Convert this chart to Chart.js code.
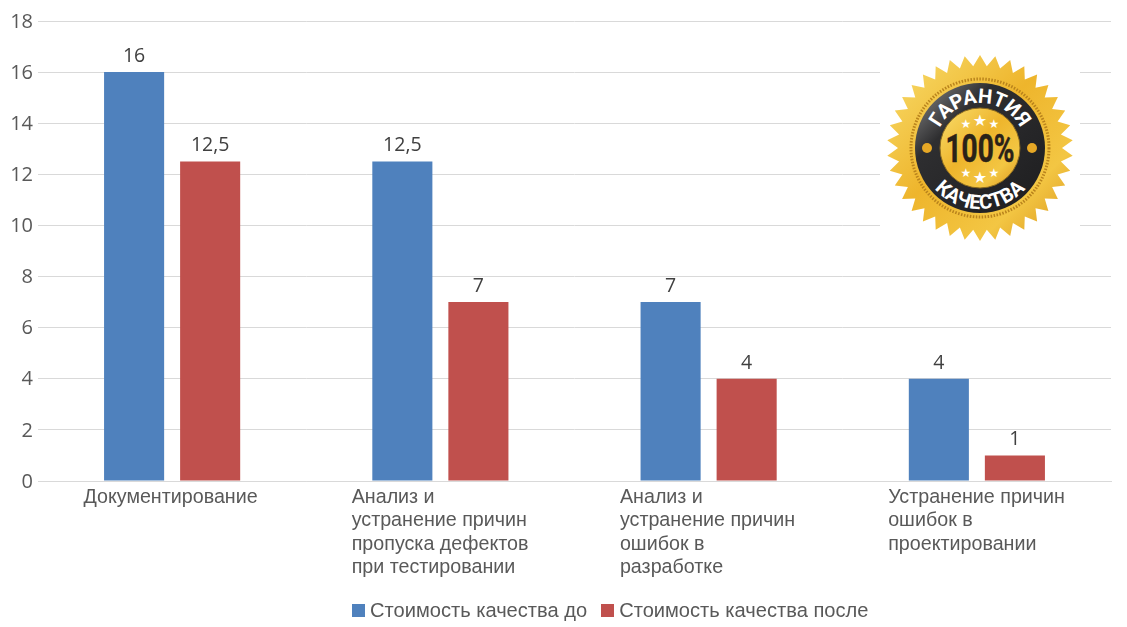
<!DOCTYPE html>
<html>
<head>
<meta charset="utf-8">
<script src="https://cdn.jsdelivr.net/npm/chart.js@4"></script>
<style>
  html, body { margin: 0; padding: 0; background: #fff; }
  #wrap { position: relative; width: 1127px; height: 627px; overflow: hidden; }
  #badge { position: absolute; left: 880px; top: 50px; }
  #legend { position: absolute; left: 352px; top: 600px; display: flex; font: 20.1px "Liberation Sans", Arial, sans-serif; color: #595959; line-height: 21px; white-space: nowrap; }
  #legend span.item { display: flex; align-items: center; margin-right: 14px; }
  #legend i { display: block; width: 13px; height: 13px; margin-right: 5px; }
</style>
</head>
<body>
<div id="wrap">
  <canvas id="myChart" width="1127" height="627"></canvas>
  <svg id="badge" width="200" height="196" viewBox="880 50 200 196">
    <defs>
      <linearGradient id="gold" x1="0" y1="0" x2="1" y2="1">
        <stop offset="0" stop-color="#f9de6e"/>
        <stop offset="0.45" stop-color="#eeb52c"/>
        <stop offset="0.75" stop-color="#f3c643"/>
        <stop offset="1" stop-color="#d8921a"/>
      </linearGradient>
      <linearGradient id="ring" x1="0" y1="0" x2="1" y2="1">
        <stop offset="0" stop-color="#8f8f8f"/>
        <stop offset="0.3" stop-color="#2e2e30"/>
        <stop offset="1" stop-color="#1d1d1f"/>
      </linearGradient>
      <path id="arcTop" d="M 935 148 A 45 45 0 0 1 1025 148"/>
      <path id="arcBottom" d="M 919 148 A 61 61 0 0 0 1041 148"/>
    </defs>
    <rect x="880" y="50" width="200" height="196" fill="#fff"/>
    <path id="burst" fill="url(#gold)"/>
    <circle cx="980" cy="148" r="69" fill="none" stroke="#b9831c" stroke-width="3" stroke-dasharray="1.5 1.5"/>
    <circle cx="980" cy="148" r="65" fill="url(#ring)"/>
    <circle cx="980" cy="148" r="40" fill="url(#gold)" stroke="#8a6a20" stroke-width="1"/>
    <circle cx="927" cy="148" r="5" fill="#e6a826"/>
    <circle cx="1032" cy="148" r="5" fill="#e6a826"/>
    <text font-family="Roboto, sans-serif" font-weight="700" font-size="20" fill="#fff" text-anchor="middle"><textPath href="#arcTop" startOffset="50%">ГАРАНТИЯ</textPath></text>
    <text font-family="Roboto, sans-serif" font-weight="700" font-size="20" fill="#fff" text-anchor="middle"><textPath href="#arcBottom" startOffset="50%">КАЧЕСТВА</textPath></text>
    <text x="980" y="162" font-family="Roboto, sans-serif" font-weight="700" font-size="38" fill="#2a2218" stroke="#2a2218" stroke-width="0.5" text-anchor="middle" textLength="69" lengthAdjust="spacingAndGlyphs">100%</text>
    <g fill="#fff" font-family="DejaVu Sans" text-anchor="middle">
      <text x="966" y="128" font-size="12">★</text>
      <text x="980" y="126" font-size="16">★</text>
      <text x="994" y="128" font-size="12">★</text>
      <text x="966" y="177" font-size="12">★</text>
      <text x="980" y="183" font-size="16">★</text>
      <text x="994" y="177" font-size="12">★</text>
    </g>
  </svg>
  <div id="legend"></div>
</div>
<script>
const categories = [
  ['Документирование'],
  ['Анализ и', 'устранение причин', 'пропуска дефектов', 'при тестировании'],
  ['Анализ и', 'устранение причин', 'ошибок в', 'разработке'],
  ['Устранение причин', 'ошибок в', 'проектировании'],
];
const seriesNames = ['Стоимость качества до', 'Стоимость качества после'];
const before = [16, 12.5, 7, 4];
const after = [12.5, 7, 4, 1];
const seriesColors = ['#4f81bd', '#c0504d'];

// star burst of the seal
let burst = '';
const teeth = 38;
for (let i = 0; i < teeth * 2; i++) {
  const r = i % 2 ? 82 : 93;
  const a = Math.PI * i / teeth - Math.PI / 2;
  burst += (i ? 'L' : 'M') + (980 + r * Math.cos(a)).toFixed(1) + ' ' + (148 + r * Math.sin(a)).toFixed(1);
}
document.querySelector('#burst').setAttribute('d', burst + 'Z');

// legend
seriesNames.forEach((name, i) => {
  const item = document.createElement('span');
  item.className = 'item';
  const box = document.createElement('i');
  box.style.background = seriesColors[i];
  item.appendChild(box);
  item.appendChild(document.createTextNode(name));
  document.querySelector('#legend').appendChild(item);
});

const valueLabels = {
  id: 'valueLabels',
  afterDatasetsDraw(chart) {
    const c = chart.ctx;
    c.save();
    c.font = '19.5px "Open Sans", sans-serif';
    c.fillStyle = '#404040';
    c.textAlign = 'center';
    c.textBaseline = 'bottom';
    chart.data.datasets.forEach((ds, i) => {
      chart.getDatasetMeta(i).data.forEach((bar, j) => {
        c.fillText(String(ds.data[j]).replace('.', ','), bar.x, bar.y - 6);
      });
    });
    c.restore();
  },
};

const ctx = document.querySelector('#myChart').getContext('2d');
const myChart = new Chart(ctx, {
  type: 'bar',
  data: {
    labels: categories,
    datasets: [
      { label: seriesNames[0], data: before, backgroundColor: seriesColors[0] },
      { label: seriesNames[1], data: after, backgroundColor: seriesColors[1] },
    ],
  },
  options: {
    responsive: false,
    animation: false,
    barPercentage: 0.79,
    categoryPercentage: 0.567,
    layout: { padding: { top: 21, right: 16, left: 0, bottom: 0 } },
    plugins: { legend: { display: false }, tooltip: { enabled: false } },
    scales: {
      x: {
        afterFit(scale) { scale.height = 146; scale.paddingLeft = 0; scale.paddingRight = 0; },
        grid: { display: false },
        border: { color: '#d9d9d9' },
        ticks: {
          autoSkip: false,
          maxRotation: 0,
          align: 'start',
          labelOffset: -88.7,
          padding: -3,
          color: '#595959',
          font: { family: '"Liberation Sans", Arial, sans-serif', size: 19.7, lineHeight: '23.3px' },
        },
      },
      y: {
        min: 0,
        max: 18,
        afterFit(scale) { scale.width = 38; },
        border: { display: false },
        grid: { color: '#d9d9d9', drawTicks: false },
        ticks: {
          stepSize: 2,
          padding: 5,
          labelOffset: 1,
          color: '#595959',
          font: { family: '"Open Sans", sans-serif', size: 20 },
        },
      },
    },
  },
  plugins: [valueLabels],
});
</script>
</body>
</html>
